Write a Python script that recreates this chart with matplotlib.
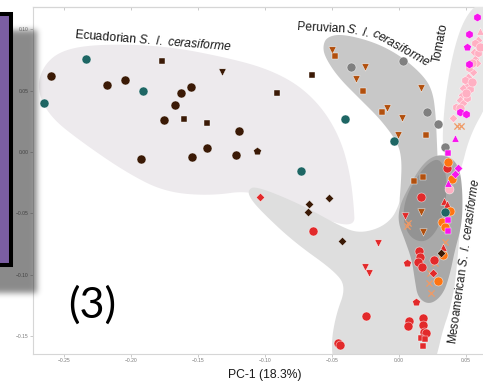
import numpy as np
import matplotlib
matplotlib.use("Agg")
import matplotlib.pyplot as plt
from matplotlib.patches import Polygon, Rectangle

plt.rcParams['font.family'] = ['Liberation Sans', 'DejaVu Sans']
plt.rcParams['mathtext.fontset'] = 'custom'
plt.rcParams['mathtext.rm'] = 'Liberation Sans'
plt.rcParams['mathtext.it'] = 'Liberation Sans:italic'

# ---------------- PCA scores (PC-1, PC-2) per group ----------------
ecu_x = [-0.2595, -0.2177, -0.2043, -0.1626, -0.1551, -0.1670, -0.1752, -0.1193, -0.1924,
         -0.1544, -0.1432, -0.1216, -0.1767, -0.1603, -0.1432, -0.0649, -0.0910, -0.1320,
         -0.1059, -0.0522, -0.0671, -0.0679, -0.0425, 0.0313]
ecu_y = [0.0619, 0.0546, 0.0586, 0.0480, 0.0529, 0.0383, 0.0261, 0.0171, -0.0057,
         -0.0041, 0.0033, -0.0024, 0.0741, 0.0269, 0.0236, 0.0627, 0.0480, 0.0651,
         0.0008, -0.0375, -0.0423, -0.0489, -0.0725, -0.0822]
ecu_m = "oooooooooooosssssvpDDDDD"

teal_x = [-0.2334, -0.2647, -0.1909, -0.0403, -0.0731, -0.0037, 0.0343]
teal_y = [0.0757, 0.0399, 0.0497, 0.0269, -0.0155, 0.0090, -0.0489]
teal_m = "ooooooo"

peru_x = [-0.0500, -0.0254, -0.0321, 0.0164, -0.0089, 0.0022, -0.0007, 0.0164, 0.0179,
          -0.0477, -0.0268, -0.0127, 0.0201, 0.0112, 0.0179]
peru_y = [0.0831, 0.0692, 0.0594, 0.0521, 0.0358, 0.0277, 0.0138, -0.0489, -0.0651,
          0.0782, 0.0497, 0.0326, 0.0138, -0.0236, -0.0204]
peru_m = "vvvvvvvvvssssss"

gray_x = [-0.0358, 0.0030, 0.0209, 0.0291, 0.0343]
gray_y = [0.0692, 0.0741, 0.0326, 0.0228, 0.0041]
gray_m = "ooooo"

red_x = [-0.0641, 0.0164, 0.0149, 0.0157, 0.0142, 0.0172, 0.0261, -0.0246, 0.0075, 0.0067,
         0.0179, 0.0179, 0.0186, 0.0201, -0.0455, -0.0440, 0.0358, 0.0164, 0.0194, 0.0179,
         -0.1037, 0.0254, -0.0157, -0.0254, -0.0224, 0.0045, 0.0336, 0.0358, 0.0328,
         0.0060, 0.0127]
red_y = [-0.0643, -0.0366, -0.0806, -0.0855, -0.0896, -0.0936, -0.0879, -0.1336, -0.1376,
         -0.1417, -0.1352, -0.1409, -0.1466, -0.1474, -0.1555, -0.1572, -0.0130, -0.1515,
         -0.1523, -0.1580, -0.0366, -0.0985, -0.0741, -0.0936, -0.0985, -0.0521, -0.0399,
         -0.0423, -0.0774, -0.0904, -0.1221]
red_m = "ooooooooooooooooosssDDvvvv^^^pp"

orange_x = [0.0365, 0.0395, 0.0380, 0.0321, 0.0343, 0.0328, 0.0291]
orange_y = [-0.0081, -0.0220, -0.0480, -0.0570, -0.0611, -0.0839, -0.1050]
orange_m = "ooooooo"

cross_x = [0.0067, 0.0060, 0.0343, 0.0268, 0.0231, 0.0224, 0.0239, 0.0433, 0.0462]
cross_y = [-0.0578, -0.0602, -0.0733, -0.0904, -0.0985, -0.1067, -0.1148, 0.0212, 0.0212]
cross_m = "xxxxxxxxx"

pink_x = [0.0604, 0.0589, 0.0567, 0.0604, 0.0559, 0.0589, 0.0567, 0.0544, 0.0582, 0.0522,
          0.0552, 0.0515, 0.0492, 0.0544, 0.0507, 0.0477, 0.0529, 0.0500, 0.0470, 0.0507,
          0.0455, 0.0477, 0.0425, 0.0455, 0.0403, 0.0373]
pink_y = [0.0985, 0.0912, 0.0888, 0.0855, 0.0814, 0.0806, 0.0757, 0.0725, 0.0725, 0.0684,
          0.0651, 0.0611, 0.0586, 0.0570, 0.0546, 0.0521, 0.0513, 0.0480, 0.0464, 0.0440,
          0.0423, 0.0399, 0.0366, 0.0358, 0.0277, -0.0301]
pink_m = "^DhoDhDoDhDDhoDDhoDhDDhoDo"

mag_x = [0.0582, 0.0522, 0.0507, 0.0522, 0.0455, 0.0500, 0.0418, 0.0365, 0.0440, 0.0418,
         0.0365, 0.0365, 0.0365]
mag_y = [0.1099, 0.0961, 0.0855, 0.0717, 0.0326, 0.0309, 0.0114, -0.0008, -0.0130, -0.0179,
         -0.0252, -0.0554, -0.0643]
mag_m = "hhphhh^sDD^ss"

# ---------------- group envelopes (outline vertices, PC units) ----------------
ecu_hull_x = [-0.2700, -0.2655, -0.2513, -0.2230, -0.1730, -0.1238, -0.0962, -0.0738, -0.0559,
              -0.0433, -0.0365, -0.0336, -0.0328, -0.0738, -0.1096, -0.1409, -0.1745, -0.2028,
              -0.2356, -0.2603]
ecu_hull_y = [0.0505, 0.0700, 0.0831, 0.0879, 0.0863, 0.0757, 0.0668, 0.0537, 0.0342,
              0.0098, -0.0171, -0.0432, -0.0635, -0.0472, -0.0309, -0.0358, -0.0326, -0.0171,
              0.0073, 0.0285]

meso_hull_x = [-0.1126, -0.1066, -0.0738, -0.0440, -0.0306, -0.0157, -0.0052, 0.0000, 0.0045,
               0.0157, 0.0306, 0.0418, 0.0462, 0.0462, 0.0440, 0.0418, 0.0380, 0.0328, 0.0290,
               0.0250, -0.0477, -0.0507, -0.0470, -0.0395, -0.0470, -0.0783, -0.1022, -0.1111]
meso_hull_y = [-0.0309, -0.0277, -0.0423, -0.0603, -0.0660, -0.0627, -0.0546, -0.0432, -0.0269,
               -0.0130, -0.0065, -0.0081, -0.0269, -0.0554, -0.0839, -0.1083, -0.1287, -0.1450,
               -0.1629, -0.1775, -0.1775, -0.1572, -0.1327, -0.1107, -0.0977, -0.0733, -0.0489,
               -0.0375]

tomato_hull_x = [0.0328, 0.0328, 0.0358, 0.0418, 0.0492, 0.0589, 0.0716, 0.0753, 0.0679,
                 0.0529, 0.0455, 0.0380]
tomato_hull_y = [0.0016, 0.0220, 0.0546, 0.0871, 0.1091, 0.1213, 0.1213, 0.0993, 0.0423,
                 0.0138, -0.0187, -0.0269]

peru_hull_x = [-0.0567, -0.0537, -0.0425, -0.0186, 0.0015, 0.0186, 0.0254, 0.0276, 0.0283,
               0.0291, 0.0283, 0.0246, 0.0157, 0.0067, 0.0000, 0.0015, 0.0022, -0.0007,
               -0.0134, -0.0283, -0.0455, -0.0552]
peru_hull_y = [0.0863, 0.0936, 0.0961, 0.0896, 0.0782, 0.0619, 0.0489, 0.0285, 0.0098,
               -0.0106, -0.0391, -0.0594, -0.0651, -0.0594, -0.0456, -0.0269, -0.0065, 0.0073,
               0.0261, 0.0423, 0.0611, 0.0774]

core_hull_x = [0.0268, 0.0380, 0.0455, 0.0477, 0.0470, 0.0418, 0.0380, 0.0328, 0.0231, 0.0142,
               0.0119, 0.0097, 0.0045, -0.0007, 0.0007, 0.0082, 0.0172]
core_hull_y = [-0.0024, -0.0033, -0.0130, -0.0350, -0.0594, -0.0798, -0.1002, -0.1164, -0.1246,
               -0.1189, -0.1042, -0.0879, -0.0717, -0.0570, -0.0432, -0.0269, -0.0106]

inner_hull_x = [0.0306, 0.0358, 0.0350, 0.0291, 0.0194, 0.0082, 0.0030, 0.0045, 0.0119, 0.0216]
inner_hull_y = [-0.0049, -0.0187, -0.0432, -0.0635, -0.0741, -0.0700, -0.0554, -0.0391, -0.0228,
                -0.0090]

x_ticks = [-0.25, -0.20, -0.15, -0.10, -0.05, 0.00, 0.05]
y_ticks = [-0.15, -0.10, -0.05, 0.00, 0.05, 0.10]

# ---------------- helpers ----------------
SIZES = {'o': 42, 's': 24, 'v': 28, '^': 28, 'D': 19, 'p': 36, 'h': 36, 'x': 20}


def smooth_closed(xs, ys, n=4):
    pts = np.column_stack([xs, ys]).astype(float)
    for _ in range(n):
        nxt = np.roll(pts, -1, axis=0)
        q = 0.75 * pts + 0.25 * nxt
        r = 0.25 * pts + 0.75 * nxt
        out = np.empty((2 * len(pts), 2))
        out[0::2] = q
        out[1::2] = r
        pts = out
    return pts


def draw_hull(ax, xs, ys, color, z):
    ax.add_patch(Polygon(smooth_closed(xs, ys), closed=True, facecolor=color,
                         edgecolor='none', zorder=z))


def draw_group(ax, xs, ys, marks, color, z):
    xs = np.asarray(xs)
    ys = np.asarray(ys)
    marks = np.array(list(marks))
    for m in dict.fromkeys(marks):
        sel = marks == m
        if m == 'x':
            ax.scatter(xs[sel], ys[sel], marker=m, s=SIZES[m], c=color,
                       linewidths=0.9, zorder=z)
        else:
            ax.scatter(xs[sel], ys[sel], marker=m, s=SIZES[m], c=color,
                       edgecolors='white', linewidths=0.3, zorder=z)


# ---------------- figure ----------------
W, H = 483, 381
fig = plt.figure(figsize=(W / 100, H / 100), dpi=100)
ax = fig.add_axes([33 / W, 27 / H, 453 / W, 347 / H])
ax.set_xlim(-0.2729, 0.065)
ax.set_ylim(-0.1645, 0.118)

draw_hull(ax, ecu_hull_x, ecu_hull_y, '#edeaed', 1)
draw_hull(ax, meso_hull_x, meso_hull_y, '#dedede', 2)
draw_hull(ax, tomato_hull_x, tomato_hull_y, '#e6e6e6', 3)
draw_hull(ax, peru_hull_x, peru_hull_y, '#c8c8c8', 4)
draw_hull(ax, core_hull_x, core_hull_y, '#a9a9a9', 5)
draw_hull(ax, inner_hull_x, inner_hull_y, '#939393', 6)

draw_group(ax, pink_x, pink_y, pink_m, '#ffb0c3', 10)
draw_group(ax, cross_x, cross_y, cross_m, '#f09a66', 11)
draw_group(ax, red_x, red_y, red_m, '#e22a2b', 12)
draw_group(ax, peru_x, peru_y, peru_m, '#b2500e', 12)
draw_group(ax, gray_x, gray_y, gray_m, '#808080', 12)
draw_group(ax, orange_x, orange_y, orange_m, '#ff7411', 13)
draw_group(ax, mag_x, mag_y, mag_m, '#f814ee', 14)
draw_group(ax, teal_x, teal_y, teal_m, '#1e6664', 15)
draw_group(ax, ecu_x, ecu_y, ecu_m, '#3b1a06', 16)

# axes styling
for side in ['left', 'bottom', 'top', 'right']:
    ax.spines[side].set_color('#d6d6d6')
    ax.spines[side].set_linewidth(0.8)
ax.set_xticks(x_ticks)
ax.set_yticks(y_ticks)
ax.set_xticklabels([f"{v:.2f}".replace('-', '\u2212') for v in x_ticks])
ax.set_yticklabels([f"{v:.2f}".replace('-', '\u2212') for v in y_ticks])
ax.tick_params(labelsize=3.6, labelcolor='#7a7a7a', color='#b5b5b5', length=2,
               width=0.5, direction='out', pad=1.2)
sec = ax.secondary_xaxis('top')
sec.set_xticks(x_ticks)
sec.tick_params(direction='in', length=2.5, width=0.5, color='#b5b5b5', labeltop=False)
sec.spines['top'].set_color('#d6d6d6')
sec.spines['top'].set_linewidth(0.8)

fig.text(265 / W, 1 - 375 / H, "PC-1 (18.3%)", ha='center', va='center',
         fontsize=8.7, color='#1a1a1a')

txt = dict(ha='center', va='center', color='#1a1a1a', fontsize=8.7,
           rotation_mode='anchor', zorder=20)
ax.text(-0.1834, 0.0904, r"Ecuadorian $\mathit{S.\ l.\ cerasiforme}$", rotation=-4.5, **txt)
ax.text(-0.0582, 0.1010, "Peruvian", rotation=-3, **txt)
ax.text(-0.0306, 0.0985, r"$\mathit{S.\ l.}$", rotation=-12, **txt)
ax.text(0.0015, 0.0847, r"$\mathit{cerasiforme}$", rotation=-29, **txt)
ax.text(0.0313, 0.0888, "Tomato", rotation=79, **txt)
meso_txt = dict(txt, fontsize=8.3)
ax.text(0.0490, -0.0888, r"Mesoamerican $\mathit{S.\ l.\ cerasiforme}$", rotation=82, **meso_txt)
ax.text(-0.2289, -0.1246, "(3)", ha='center', va='center', fontsize=31,
        family=['Lato', 'DejaVu Sans'], color='black', zorder=20)

# slide overlay: purple panel with its drop shadow
oax = fig.add_axes([0, 0, 1, 1])
oax.set_xlim(0, W)
oax.set_ylim(H, 0)
oax.axis('off')
pad = 20
mask = np.zeros((H + 2 * pad, W + 2 * pad))
mask[30 + pad:293 + pad, 0:37 + pad] = 1.0
k = np.exp(-0.5 * (np.arange(-10, 11) / 3.0) ** 2)
k /= k.sum()
mask = np.apply_along_axis(lambda r: np.convolve(r, k, mode='same'), 1, mask)
mask = np.apply_along_axis(lambda c: np.convolve(c, k, mode='same'), 0, mask)
mask = mask[pad:pad + H, pad:pad + W]
rgba = np.zeros((H, W, 4))
rgba[..., 3] = 0.46 * mask
oax.imshow(rgba, extent=(0, W, H, 0), interpolation='bilinear', aspect='auto', zorder=1)
oax.add_patch(Rectangle((-6, 14), 16.5, 251, facecolor='#7b5ea3', edgecolor='black',
                        linewidth=2.9, zorder=2))

fig.savefig("out.png", dpi=100)
